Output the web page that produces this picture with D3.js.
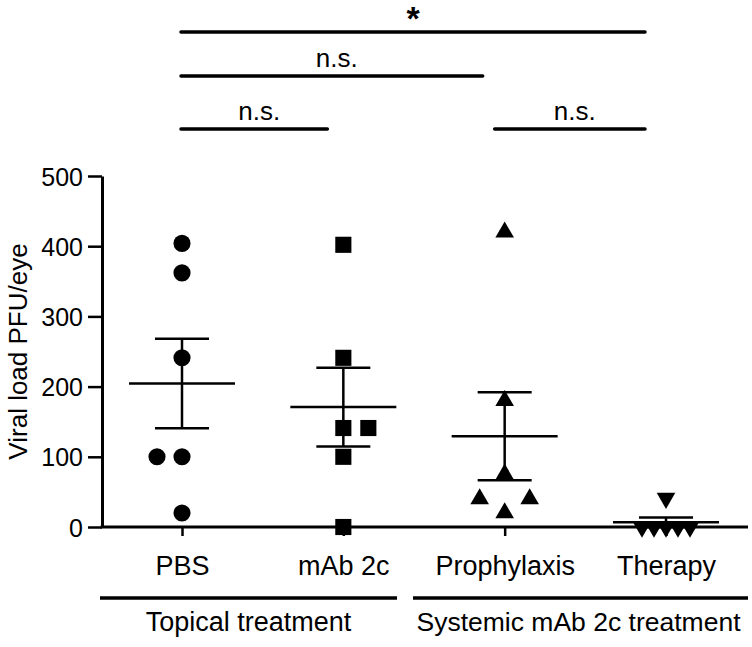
<!DOCTYPE html>
<html><head><meta charset="utf-8">
<script src="https://cdn.jsdelivr.net/npm/d3@7"></script>
<style>body{margin:0;background:#fff}svg{display:block;font-family:Arial,"Liberation Sans",Helvetica,sans-serif}</style>
</head><body><svg id="c" width="752" height="647"></svg>
<script>
const categories = ["PBS","mAb 2c","Prophylaxis","Therapy"];
const symbols = ["circle","square","triangle","triangleDown"];
const pbsValues = [404,362,241,100,100,20];
const pbsJitter = [0,0,0,-1,0,0];
const mabValues = [402,241,141,141,100,0];
const mabJitter = [0,0,0,1,0,0];
const prophValues = [420,180,75,40,40,20];
const prophJitter = [0,0,0,-1,1,0];
const therapyValues = [41,0,0,0,0,0];
const therapyJitter = [0,-2,-1,0,1,2];
const yTicks = [0,100,200,300,400,500];
const groups = [{label:"Topical treatment", from:0, to:1},{label:"Systemic mAb 2c treatment", from:2, to:3}];
const comparisons = [
  {a:0,b:3,label:"*",level:2},
  {a:0,b:2,label:"n.s.",level:1},
  {a:0,b:1,label:"n.s.",level:0},
  {a:2,b:3,label:"n.s.",level:0}
];

const series = [
  {vals:pbsValues,jit:pbsJitter},
  {vals:mabValues,jit:mabJitter},
  {vals:prophValues,jit:prophJitter},
  {vals:therapyValues,jit:therapyJitter}
];

const FONT = "Arial, 'Liberation Sans', Helvetica, sans-serif";
const svg = d3.select("#c");
const axisLeftX = 102, plotRight = 748, plotTop = 176, plotBottom = 527;
const x = d3.scalePoint().domain(categories).range([182,666]);
const y = d3.scaleLinear().domain([0,500]).range([plotBottom,plotTop]);

// y axis
const ya = svg.append("g").attr("transform",`translate(${axisLeftX},0)`)
  .call(d3.axisLeft(y).tickValues(yTicks).tickSize(14).tickPadding(5).tickSizeOuter(0));
ya.select(".domain").attr("stroke","#000").attr("stroke-width",3);
ya.selectAll(".tick line").attr("stroke","#000").attr("stroke-width",2.5);
ya.selectAll(".tick text").attr("font-size",25).attr("fill","#000").attr("font-family",FONT).attr("dy","0.36em");

// x axis
const xa = svg.append("g").attr("transform",`translate(0,${plotBottom})`)
  .call(d3.axisBottom(x).tickSize(9).tickSizeOuter(0));
xa.select(".domain").attr("d",`M${axisLeftX-1.5},0H${plotRight}`).attr("stroke","#000").attr("stroke-width",3);
xa.selectAll(".tick line").attr("stroke","#000").attr("stroke-width",2.5);
xa.selectAll(".tick text").attr("font-size",27).attr("fill","#000").attr("font-family",FONT)
  .attr("y",48).attr("dy",0);

// y label
svg.append("text").attr("transform",`translate(27,${(plotTop+plotBottom)/2}) rotate(-90)`)
  .attr("text-anchor","middle").attr("font-size",26).text("Viral load PFU/eye");

// group brackets
const groupLineY = 598;
groups.forEach((gr,i)=>{
  const x1 = i===0 ? axisLeftX-2 : (x(categories[gr.from])+x(categories[gr.from-1]))/2 - 11;
  const x2 = i===0 ? (x(categories[gr.to])+x(categories[gr.to+1]))/2 - 27 : plotRight;
  svg.append("line").attr("x1",x1).attr("x2",x2).attr("y1",groupLineY).attr("y2",groupLineY)
    .attr("stroke","#000").attr("stroke-width",3.5);
  svg.append("text").attr("x",(x1+x2)/2 - (i===1?2:0)).attr("y",631).attr("text-anchor","middle")
    .attr("font-size",i===1?26.5:27).text(gr.label);
});

// points
const symMap = {circle:d3.symbolCircle, square:d3.symbolSquare, triangle:d3.symbolTriangle, triangleDown:d3.symbolTriangle};
const symSize = {circle:230, square:260, triangle:150, triangleDown:150};
series.forEach((s,i)=>{
  const cx = x(categories[i]);
  const g = svg.append("g");
  const sym = symbols[i];
  const gen = d3.symbol().type(symMap[sym]).size(symSize[sym]);
  const jitterStep = i===3 ? 12 : 25;
  s.vals.forEach((v,j)=>{
    const px = cx + s.jit[j]*jitterStep;
    const py = y(v);
    const rot = sym==="triangleDown" ? 180 : 0;
    g.append("path").attr("d",gen()).attr("fill","#000")
      .attr("transform",`translate(${px},${py}) rotate(${rot})`);
  });
  const m = d3.mean(s.vals);
  const sem = d3.deviation(s.vals)/Math.sqrt(s.vals.length);
  g.append("line").attr("x1",cx-53).attr("x2",cx+53).attr("y1",y(m)).attr("y2",y(m)).attr("stroke","#000").attr("stroke-width",2.5);
  g.append("line").attr("x1",cx).attr("x2",cx).attr("y1",y(m+sem)).attr("y2",y(m-sem)).attr("stroke","#000").attr("stroke-width",2.5);
  [m+sem,m-sem].forEach(v=>{
    g.append("line").attr("x1",cx-27).attr("x2",cx+27).attr("y1",y(v)).attr("y2",y(v)).attr("stroke","#000").attr("stroke-width",2.5);
  });
});

// significance bars
const levelY = [129,76,32];
comparisons.forEach(c=>{
  const ly = levelY[c.level];
  const xs = c.a===2 ? x(categories[2])-10 : x(categories[c.a])-1;
  const xe = c.b===3 ? x(categories[3])-21 : (c.b===2 ? x(categories[2])-22 : x(categories[1])-16);
  svg.append("line").attr("x1",xs).attr("x2",xe).attr("y1",ly).attr("y2",ly)
    .attr("stroke","#000").attr("stroke-width",3.5).attr("stroke-linecap","round");
  const mid = (xs+xe)/2 + (c.label==="*" ? 0 : 5);
  svg.append("text").attr("x",mid).attr("y",c.label==="*" ? ly-2 : ly-9).attr("text-anchor","middle")
    .attr("font-size",c.label==="*"?34:26).attr("font-weight",c.label==="*"?"bold":"normal").text(c.label);
});
</script>
</body></html>
